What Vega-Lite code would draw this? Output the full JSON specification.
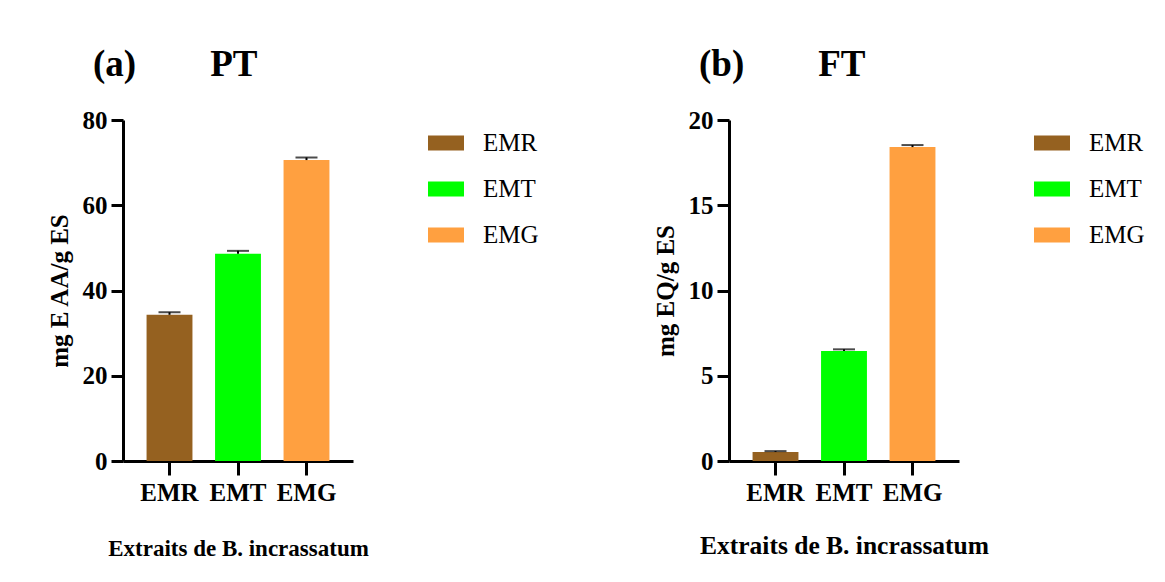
{
  "$schema": "https://vega.github.io/schema/vega-lite/v6.json",
  "background": "white",
  "padding": {"left": 47, "top": 46, "right": 0, "bottom": 0},
  "spacing": 109,
  "config": {
    "font": "Liberation Serif",
    "view": {"stroke": null},
    "title": {"anchor": "start", "frame": "group", "fontSize": 37, "fontWeight": "bold", "font": "Liberation Serif", "color": "black", "dx": -30, "offset": 24},
    "axis": {"domainColor": "black", "domainWidth": 3, "tickColor": "black", "tickWidth": 3, "grid": false, "labelFont": "Liberation Serif", "labelFontWeight": "bold", "labelFontSize": 25, "labelColor": "black", "titleFont": "Liberation Serif", "titleFontWeight": "bold", "titleColor": "black"},
    "axisX": {"tickSize": 14, "labelAngle": 0, "labelPadding": 5, "titleFontSize": 23, "titlePadding": 32},
    "axisY": {"tickSize": 12, "labelPadding": 4, "titleFontSize": 25, "titlePadding": 10},
    "legend": {"labelFont": "Liberation Serif", "labelFontSize": 25, "labelColor": "black", "symbolType": "M-1,-0.42H1V0.42H-1Z", "symbolSize": 1296, "symbolStrokeWidth": 0, "symbolOpacity": 1, "rowPadding": 15, "labelOffset": 19, "offset": 70, "padding": 5, "title": null}
  },
  "hconcat": [
    {
      "title": {"text": "(a)\u00a0\u00a0\u00a0\u00a0\u00a0\u00a0\u00a0\u00a0PT"},
      "width": 230,
      "height": 341,
      "data": {"values": [
        {"extrait": "EMR", "value": 34.3, "upper": 34.9},
        {"extrait": "EMT", "value": 48.6, "upper": 49.3},
        {"extrait": "EMG", "value": 70.6, "upper": 71.2}
      ]},
      "layer": [
        {
          "mark": {"type": "bar"},
          "encoding": {
            "x": {"field": "extrait", "type": "nominal", "sort": null, "scale": {"paddingInner": 0.33, "paddingOuter": 0.344}, "axis": {"title": "Extraits de B. incrassatum"}},
            "y": {"field": "value", "type": "quantitative", "scale": {"domain": [0, 80]}, "axis": {"values": [0, 20, 40, 60, 80], "title": "mg E AA/g ES"}},
            "color": {"field": "extrait", "type": "nominal", "sort": null, "scale": {"domain": ["EMR", "EMT", "EMG"], "range": ["#956120", "#00ff00", "#ffa040"]}, "legend": {"orient": "right"}}
          }
        },
        {
          "mark": {"type": "rule", "strokeWidth": 2, "color": "black"},
          "encoding": {
            "x": {"field": "extrait", "type": "nominal", "sort": null},
            "y": {"field": "value", "type": "quantitative"},
            "y2": {"field": "upper"}
          }
        },
        {
          "mark": {"type": "tick", "orient": "horizontal", "size": 22, "thickness": 2, "color": "black"},
          "encoding": {
            "x": {"field": "extrait", "type": "nominal", "sort": null},
            "y": {"field": "upper", "type": "quantitative"}
          }
        }
      ]
    },
    {
      "title": {"text": "(b)\u00a0\u00a0\u00a0\u00a0\u00a0\u00a0\u00a0\u00a0FT"},
      "width": 230,
      "height": 341,
      "data": {"values": [
        {"extrait": "EMR", "value": 0.53, "upper": 0.58},
        {"extrait": "EMT", "value": 6.45, "upper": 6.55},
        {"extrait": "EMG", "value": 18.41, "upper": 18.53}
      ]},
      "layer": [
        {
          "mark": {"type": "bar"},
          "encoding": {
            "x": {"field": "extrait", "type": "nominal", "sort": null, "scale": {"paddingInner": 0.33, "paddingOuter": 0.344}, "axis": {"title": "Extraits de B. incrassatum", "titleFontSize": 25.5, "titlePadding": 28}},
            "y": {"field": "value", "type": "quantitative", "scale": {"domain": [0, 20]}, "axis": {"values": [0, 5, 10, 15, 20], "title": "mg EQ/g ES"}},
            "color": {"field": "extrait", "type": "nominal", "sort": null, "scale": {"domain": ["EMR", "EMT", "EMG"], "range": ["#956120", "#00ff00", "#ffa040"]}, "legend": {"orient": "right"}}
          }
        },
        {
          "mark": {"type": "rule", "strokeWidth": 2, "color": "black"},
          "encoding": {
            "x": {"field": "extrait", "type": "nominal", "sort": null},
            "y": {"field": "value", "type": "quantitative"},
            "y2": {"field": "upper"}
          }
        },
        {
          "mark": {"type": "tick", "orient": "horizontal", "size": 22, "thickness": 2, "color": "black"},
          "encoding": {
            "x": {"field": "extrait", "type": "nominal", "sort": null},
            "y": {"field": "upper", "type": "quantitative"}
          }
        }
      ]
    }
  ],
  "resolve": {"scale": {"color": "independent", "y": "independent", "x": "independent"}, "legend": {"color": "independent"}}
}
